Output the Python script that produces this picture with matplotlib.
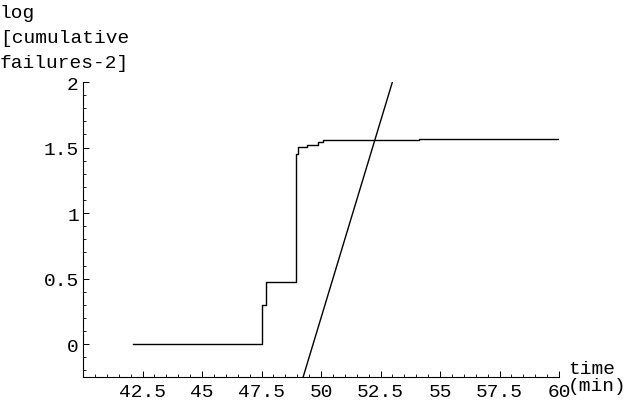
import numpy as np
import matplotlib.pyplot as plt
from matplotlib.ticker import FixedLocator, MultipleLocator

# cumulative failure record (time in min, cumulative failures - 2)
fail_time = [42.1, 47.53, 47.68, 48.95, 49.05, 49.42, 49.86, 50.07, 54.12, 60.0]
fail_count = [1, 2, 3, 28, 32, 33, 35, 36, 37, 37]

# fitted straight line  log(N-2) = a*t + b
fit_slope = 0.6
fit_icept = -29.8
fit_time = [49.0, 53.0]

xticks = [42.5, 45, 47.5, 50, 52.5, 55, 57.5, 60]
xlabels = ['42.5', '45', '47.5', '50', '52.5', '55', '57.5', '60']
yticks = [0, 0.5, 1, 1.5, 2]
ylabels = ['0', '0.5', '1', '1.5', '2']

font = 'Liberation Mono'
fs = 14

fig = plt.figure(figsize=(6.44, 4.02), dpi=100)
ax = fig.add_axes([83/644, 1-378/402, (559-83)/644, (378-83)/402])

logN = np.log10(fail_count)
ax.plot(fail_time, logN, drawstyle='steps-post', color='black', lw=1.0)
ft = np.array(fit_time)
ax.plot(ft, fit_slope*ft + fit_icept, color='black', lw=1.0)

ax.set_xlim(40, 60)
ax.set_ylim(-0.25, 2)
for s in ['top', 'right']:
    ax.spines[s].set_visible(False)
for s in ['left', 'bottom']:
    ax.spines[s].set_linewidth(0.8)

ax.xaxis.set_major_locator(FixedLocator(xticks))
ax.set_xticklabels(xlabels, fontfamily=font, fontsize=fs)
ax.xaxis.set_minor_locator(MultipleLocator(0.5))
ax.yaxis.set_major_locator(FixedLocator(yticks))
ax.set_yticklabels(ylabels, fontfamily=font, fontsize=fs)
ax.yaxis.set_minor_locator(MultipleLocator(0.1))

ax.tick_params(which='major', direction='in', length=4, width=0.7)
ax.tick_params(axis='x', which='major', pad=4)
ax.tick_params(axis='y', which='major', pad=3)
ax.tick_params(which='minor', direction='in', length=2, width=0.6)

fig.text(0.0, 1-5/402, 'log\n[cumulative\nfailures-2]', fontfamily=font,
         fontsize=fs, ha='left', va='top', linespacing=1.6)
fig.text(568/644, 1-378/402, 'time\n(min)', fontfamily=font, fontsize=fs,
         ha='left', va='center', linespacing=1.05)

fig.savefig('out.png', dpi=100)
